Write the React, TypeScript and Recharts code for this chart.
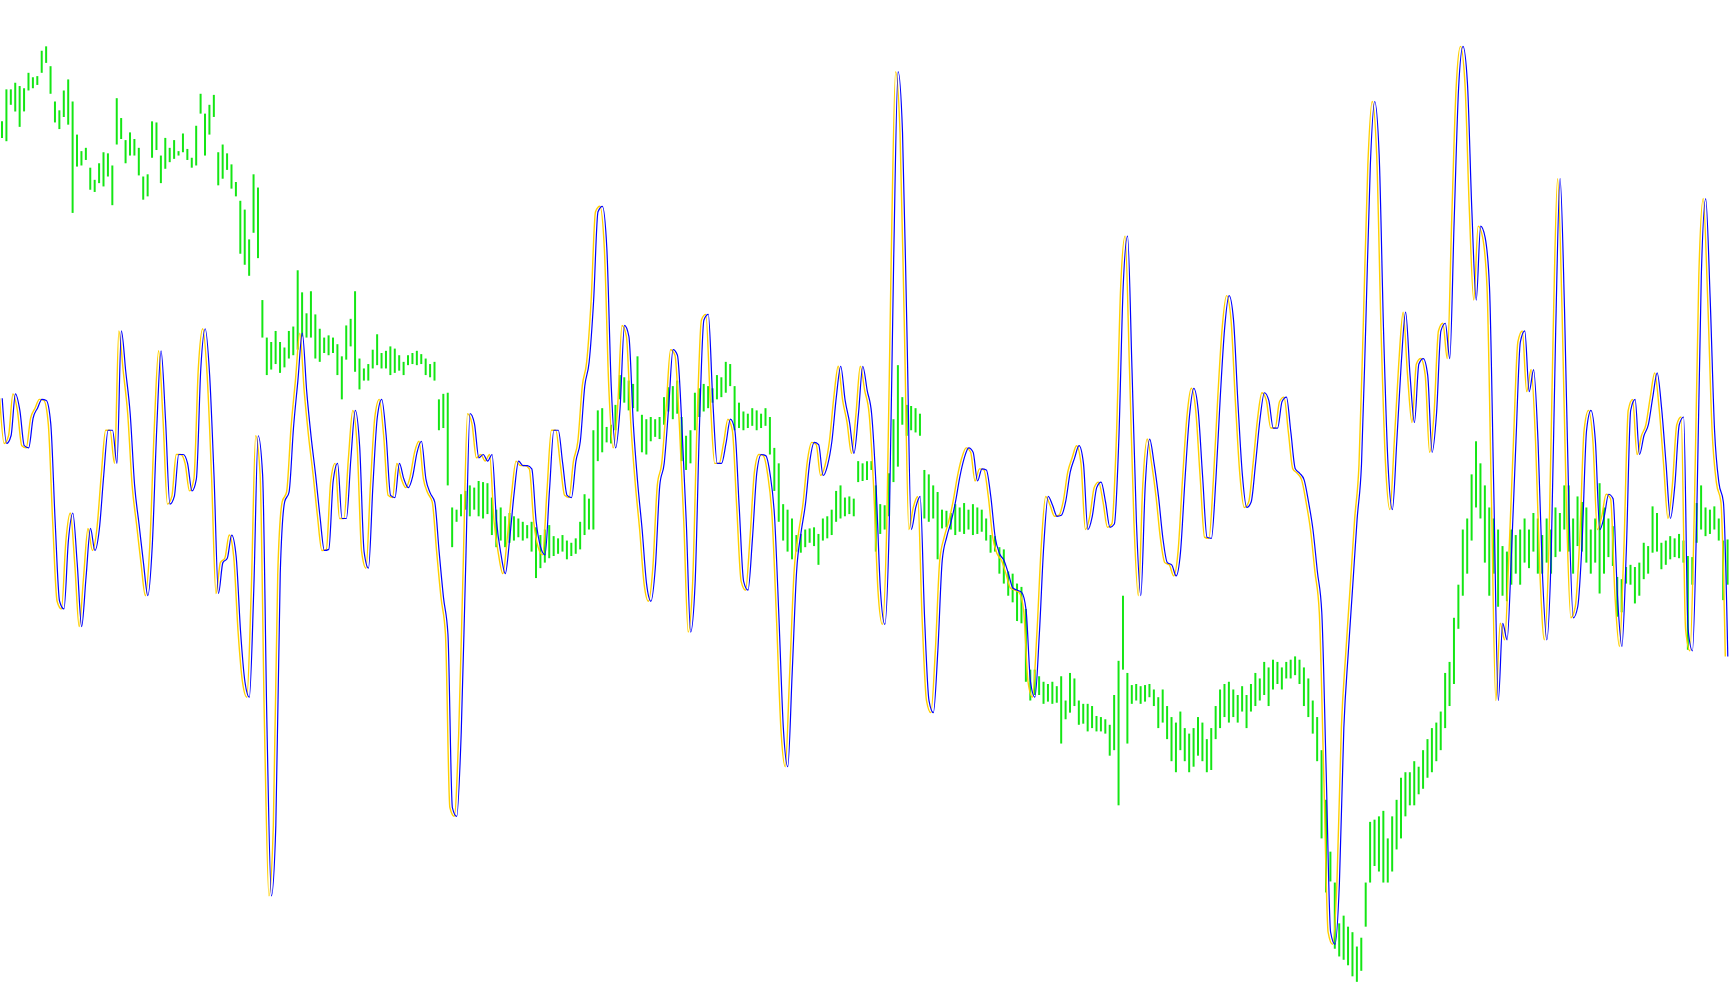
import { ComposedChart, Bar, Line, XAxis, YAxis } from "recharts";

// values (screen-style units, 0 = top, 911 = bottom)
const oscillator = [
  361, 402, 395, 357, 372, 404, 406, 379, 370, 362,
  363, 384, 473, 545, 552, 490, 465, 511, 568, 523,
  479, 499, 480, 431, 390, 390, 420, 300, 337, 375,
  440, 475, 510, 540, 495, 390, 318, 380, 457, 450,
  412, 412, 420, 445, 434, 334, 298, 340, 432, 538,
  510, 506, 485, 504, 572, 618, 632, 535, 395, 430,
  660, 812, 748, 520, 455, 446, 388, 345, 302, 355,
  396, 430, 468, 499, 498, 436, 420, 470, 470, 416,
  372, 405, 500, 515, 440, 378, 362, 395, 449, 451,
  420, 434, 442, 432, 410, 400, 434, 447, 455, 500,
  542, 575, 732, 740, 665, 516, 375, 384, 415, 412,
  418, 412, 472, 502, 520, 488, 447, 418, 422, 422,
  425, 473, 496, 503, 445, 390, 390, 420, 449, 451,
  418, 400, 350, 328, 273, 192, 187, 225, 350, 406,
  370, 295, 305, 384, 438, 480, 529, 545, 514, 440,
  420, 370, 317, 322, 385, 473, 573, 529, 385, 290,
  285, 362, 420, 420, 402, 380, 390, 460, 527, 535,
  488, 428, 412, 413, 430, 468, 560, 660, 695, 610,
  518, 483, 457, 418, 401, 403, 431, 422, 400, 360,
  332, 363, 383, 411, 376, 332, 354, 375, 440, 535,
  566, 475, 235, 65, 120, 300, 480, 460, 450, 560,
  635, 646, 590, 508, 487, 473, 455, 432, 415, 406,
  410, 436, 425, 426, 450, 487, 502, 508, 520, 533,
  535, 537, 553, 618, 632, 575, 495, 450, 458, 468,
  467, 454, 428, 415, 404, 420, 480, 468, 442, 437,
  455, 478, 475, 400, 260, 214, 335, 473, 540, 440,
  398, 420, 450, 488, 510, 512, 522, 500, 435, 378,
  352, 372, 432, 487, 488, 435, 360, 297, 268, 290,
  365, 430, 460, 455, 420, 380, 356, 363, 388, 388,
  364, 360, 392, 425, 429, 435, 455, 480, 518, 555,
  700, 845, 856, 800, 660, 592, 532, 471, 421, 290,
  150, 92, 140, 300, 420, 462, 400, 330, 283, 340,
  383, 330, 325, 340, 410, 375, 300, 293, 325, 200,
  80, 42, 75, 190, 272, 205, 215, 260, 450, 635,
  565, 580, 500, 400, 310, 300, 355, 335, 400, 520,
  580, 500, 300, 162, 280, 460, 560, 550, 490, 390,
  372, 400, 480, 468, 448, 452, 540, 586, 500, 372,
  362, 412, 395, 385, 360, 338, 370, 420, 470, 440,
  385, 378, 570, 590, 460, 250, 180, 270, 390, 438,
  455, 595,
];

const barHigh = [
  110, 81, 81, 75, 78, 80, 66, 70, 69, 46,
  42, 60, 92, 100, 82, 72, 92, 122, 137, 134,
  152, 163, 148, 138, 139, 150, 89, 107, 127, 120,
  126, 134, 160, 158, 110, 111, 141, 125, 134, 127,
  137, 121, 135, 143, 114, 85, 103, 95, 86, 138,
  131, 139, 149, 165, 182, 190, 217, 158, 170, 272,
  306, 310, 300, 310, 315, 300, 296, 245, 265, 284,
  264, 285, 298, 306, 304, 306, 312, 323, 295, 289,
  264, 325, 334, 330, 317, 303, 320, 318, 314, 316,
  322, 328, 322, 320, 318, 321, 325, 330, 328, 362,
  357, 356, 460, 462, 448, 445, 440, 442, 436, 437,
  438, 451, 462, 460, 468, 465, 468, 470, 473, 476,
  473, 478, 485, 480, 476, 486, 488, 485, 490, 492,
  488, 473, 448, 452, 390, 372, 370, 387, 385, 367,
  340, 342, 345, 348, 323, 376, 380, 378, 380, 378,
  360, 351, 350, 345, 378, 395, 390, 356, 352, 348,
  350, 352, 340, 342, 328, 330, 350, 365, 373, 375,
  370, 372, 375, 370, 378, 406, 420, 457, 462, 470,
  485, 484, 480, 479, 478, 484, 470, 468, 462, 445,
  440, 451, 450, 452, 418, 420, 418, 418, 440, 457,
  458, 429, 380, 331, 360, 367, 368, 370, 375, 426,
  430, 440, 446, 462, 463, 465, 457, 460, 456, 462,
  457, 460, 462, 470, 485, 486, 496, 498, 518, 520,
  529, 532, 552, 607, 607, 613, 618, 620, 618, 622,
  613, 635, 610, 615, 635, 638, 638, 640, 649, 650,
  652, 657, 630, 599, 540, 610, 621, 620, 622, 621,
  620, 625, 632, 625, 640, 650, 655, 645, 660, 665,
  660, 650, 655, 670, 660, 640, 625, 620, 618, 625,
  630, 622, 630, 620, 610, 615, 600, 605, 598, 600,
  605, 600, 598, 595, 598, 605, 615, 635, 650, 680,
  725, 772, 800, 837, 830, 840, 845, 858, 850, 800,
  745, 743, 740, 735, 760, 740, 725, 705, 700, 700,
  690, 695, 680, 670, 660, 655, 645, 610, 600, 560,
  530, 480, 470, 430, 400, 420, 440, 460, 470, 480,
  495, 500, 480, 485, 480, 470, 480, 465, 470, 485,
  470, 480, 460, 465, 440, 440, 470, 450, 455, 460,
  480, 470, 438, 460, 470, 477, 523, 525, 514, 512,
  514, 510, 492, 495, 459, 465, 492, 490, 486, 488,
  484, 490, 504, 505, 456, 440, 460, 462, 459, 470,
  490, 489,
];

const barLow = [
  125, 128, 95, 101, 115, 101, 82, 80, 77, 66,
  57, 85, 111, 117, 106, 113, 193, 151, 150, 145,
  172, 174, 166, 169, 160, 186, 131, 126, 148, 141,
  141, 159, 181, 178, 143, 136, 166, 153, 147, 144,
  141, 138, 145, 152, 150, 103, 141, 122, 106, 168,
  162, 154, 171, 178, 230, 240, 250, 211, 234, 306,
  340, 335, 330, 338, 333, 325, 322, 317, 305, 306,
  306, 325, 328, 320, 322, 320, 340, 362, 326, 314,
  337, 353, 345, 345, 334, 331, 334, 334, 340, 338,
  336, 340, 331, 330, 331, 330, 340, 342, 345, 390,
  388, 440, 496, 473, 468, 462, 468, 462, 468, 470,
  466, 485, 496, 490, 496, 492, 490, 487, 490, 488,
  500, 524, 515, 510, 506, 504, 502, 500, 507, 504,
  502, 498, 485, 480, 480, 418, 410, 401, 402, 390,
  362, 365, 372, 370, 373, 410, 412, 400, 396, 398,
  385, 373, 380, 375, 418, 426, 420, 390, 378, 373,
  370, 365, 362, 360, 356, 350, 390, 388, 390, 388,
  386, 390, 388, 386, 412, 445, 473, 490, 500, 507,
  500, 501, 496, 492, 495, 512, 490, 488, 485, 473,
  470, 468, 466, 468, 437, 436, 435, 426, 500, 484,
  480, 468, 437, 423, 385, 395, 390, 392, 395, 470,
  473, 470, 507, 479, 478, 480, 485, 482, 484, 480,
  485, 484, 482, 490, 501, 500, 520, 529, 540, 546,
  563, 565, 618, 635, 630, 630, 638, 636, 638, 637,
  674, 652, 646, 640, 657, 656, 663, 660, 663, 663,
  665, 685, 680, 730, 607, 674, 638, 635, 638, 636,
  632, 640, 660, 655, 670, 690, 700, 680, 690, 700,
  695, 685, 690, 700, 698, 670, 660, 650, 655, 650,
  655, 645, 660, 645, 640, 635, 630, 640, 625, 620,
  625, 615, 615, 612, 620, 640, 650, 665, 690, 760,
  809, 799, 860, 867, 870, 875, 885, 890, 880, 840,
  800, 785, 790, 800, 800, 790, 770, 760, 740, 730,
  730, 720, 715, 705, 700, 690, 680, 660, 640, 620,
  570, 540, 520, 490, 460, 470, 510, 540, 520, 550,
  540, 545, 530, 520, 530, 510, 515, 500, 520, 520,
  510, 520, 505, 500, 480, 500, 520, 495, 500, 510,
  520, 510, 538, 520, 505, 513, 559, 555, 529, 530,
  547, 540, 525, 520, 501, 500, 516, 512, 507, 505,
  506, 510, 589, 530, 492, 480, 486, 484, 480, 490,
  544, 530,
];

const data = oscillator.map((v, i) => ({
  idx: i,
  osc: v,
  signal: v,
  range: [barLow[i], barHigh[i]],
}));

export default function App() {
  return (
    <div style={{ width: 1730, height: 1005, background: "#ffffff" }}>
      <style>{`
        body { margin: 0; overflow: hidden; }
        .signal-line path { transform: translateX(-2.5px); }
      `}</style>
      <ComposedChart
        width={1730}
        height={1005}
        data={data}
        margin={{ top: 0, right: 0, bottom: 0, left: 0 }}
        barCategoryGap={0}
      >
        <XAxis dataKey="idx" hide />
        <YAxis hide reversed domain={[0, 911]} allowDataOverflow />
        <Bar
          dataKey="range"
          fill="#14e614"
          barSize={2}
          isAnimationActive={false}
        />
        <Line
          className="signal-line"
          type="monotone"
          dataKey="signal"
          stroke="#ffd000"
          strokeWidth={1.4}
          dot={false}
          activeDot={false}
          isAnimationActive={false}
        />
        <Line
          type="monotone"
          dataKey="osc"
          stroke="#0000ff"
          strokeWidth={1.2}
          dot={false}
          activeDot={false}
          isAnimationActive={false}
        />
      </ComposedChart>
    </div>
  );
}
